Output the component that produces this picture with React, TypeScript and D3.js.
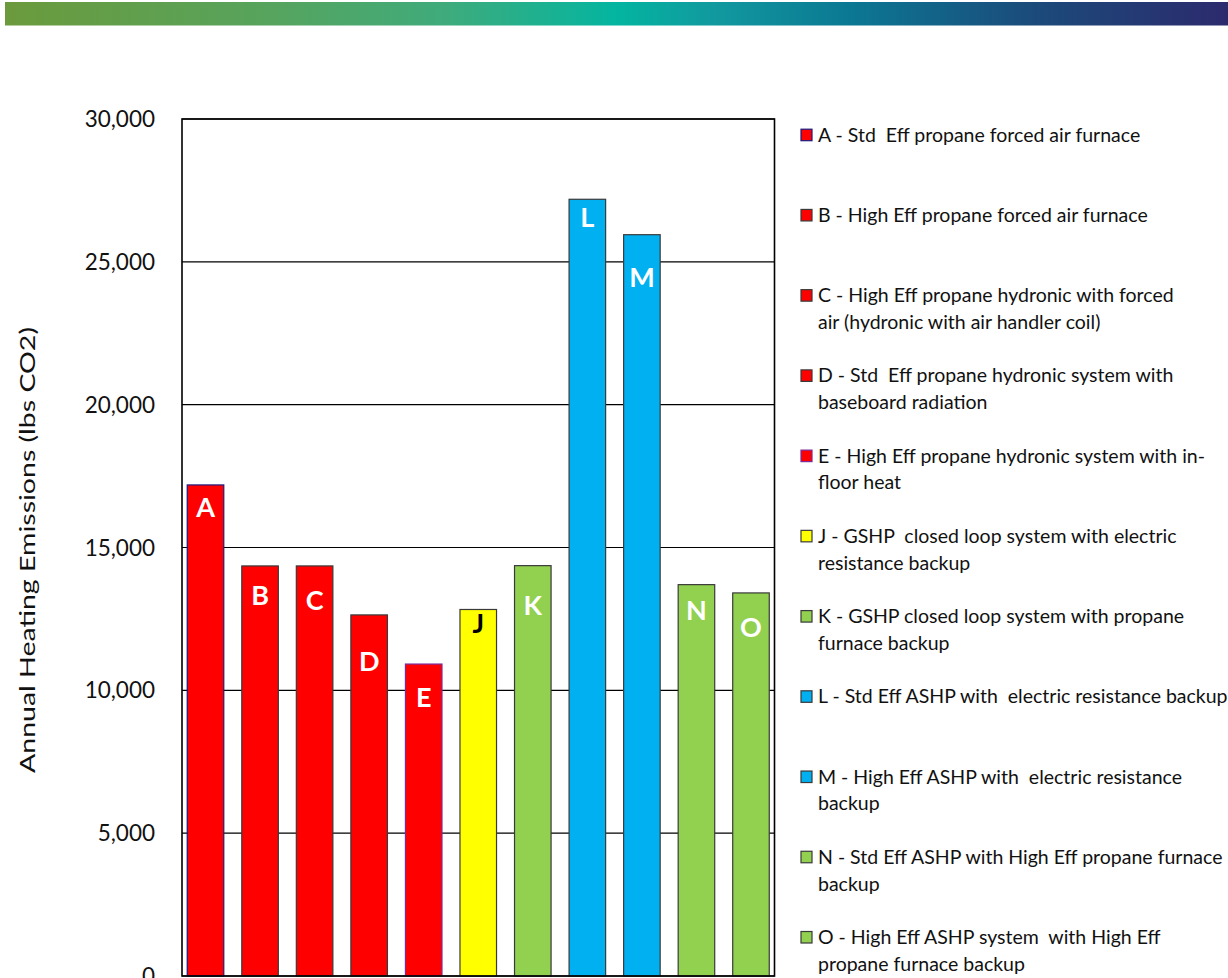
import React from "react";
import * as d3 from "d3";

const categories = ["A", "B", "C", "D", "E", "J", "K", "L", "M", "N", "O"];
const values = [17190, 14355, 14355, 12640, 10920, 12830, 14365, 27190, 25950, 13700, 13410];
const labelValues = [16080, 13000, 12800, 10660, 9400, 11990, 12620, 26220, 24130, 12470, 11880];
const groups = ["propane", "propane", "propane", "propane", "propane", "gshpElec", "hybrid", "ashp", "ashp", "hybrid", "hybrid"];
const legendLabels = [
  ["A - Std  Eff propane forced air furnace"],
  ["B - High Eff propane forced air furnace"],
  ["C - High Eff propane hydronic with forced", "air (hydronic with air handler coil)"],
  ["D - Std  Eff propane hydronic system with", "baseboard radiation"],
  ["E - High Eff propane hydronic system with in-", "floor heat"],
  ["J - GSHP  closed loop system with electric", "resistance backup"],
  ["K - GSHP closed loop system with propane", "furnace backup"],
  ["L - Std Eff ASHP with  electric resistance backup"],
  ["M - High Eff ASHP with  electric resistance", "backup"],
  ["N - Std Eff ASHP with High Eff propane furnace", "backup"],
  ["O - High Eff ASHP system  with High Eff", "propane furnace backup"],
];
const yTicks = [0, 5000, 10000, 15000, 20000, 25000, 30000];
const yTitle = "Annual Heating Emissions (lbs CO2)";

const groupColor: Record<string, string> = {
  propane: "#ff0000",
  gshpElec: "#ffff00",
  hybrid: "#92d050",
  ashp: "#00b0f0",
};
const strokeFor = (c: string) => (c === "A" ? "#1a1a80" : c === "E" ? "#7a2a9a" : "#3a3a3a");

const W = 1228;
const H = 978;
const plot = { left: 182, right: 774.5, top: 119, bottom: 976 };
const FONT = "Lato, 'Open Sans', sans-serif";

export default function App() {
  const x = d3
    .scaleBand<string>()
    .domain(categories)
    .range([plot.left, plot.right])
    .paddingInner(0.33)
    .paddingOuter(0.096);
  const y = d3.scaleLinear().domain([0, 30000]).range([plot.bottom, plot.top]);
  const fmt = d3.format(",");
  const legendX = 801;
  const legendTextX = 818;
  const legendY = d3.scaleLinear().domain([0, 10]).range([141.7, 944]);

  return (
    <svg
      width={W}
      height={H}
      style={{ position: "absolute", left: 0, top: 0, display: "block", background: "#fff" }}
      fontFamily={FONT}
    >
      <defs>
        <linearGradient id="topbar" x1="0" x2="1" y1="0" y2="0">
          <stop offset="0" stopColor="#6b9a3c" />
          <stop offset="0.22" stopColor="#56a45e" />
          <stop offset="0.36" stopColor="#3fab7c" />
          <stop offset="0.5" stopColor="#03b5a0" />
          <stop offset="0.58" stopColor="#11999f" />
          <stop offset="0.69" stopColor="#0b7893" />
          <stop offset="0.84" stopColor="#1b4b7a" />
          <stop offset="1" stopColor="#2c2a6e" />
        </linearGradient>
      </defs>
      <rect x={5} y={2} width={W - 5} height={23.5} fill="url(#topbar)" />

      {/* gridlines */}
      {yTicks.map((t) => (
        <line key={t} x1={plot.left} x2={plot.right} y1={y(t)} y2={y(t)} stroke="#000" strokeWidth={1.2} />
      ))}
      {/* tick labels */}
      {yTicks.map((t) => (
        <text key={"l" + t} x={155} y={y(t) + 8} textAnchor="end" fontSize={22.5} fill="#111">
          {fmt(t)}
        </text>
      ))}
      <text
        transform={`translate(35,${550}) rotate(-90)`}
        textAnchor="middle"
        fontSize={22}
        textLength={446}
        lengthAdjust="spacingAndGlyphs"
        fill="#111"
      >
        {yTitle}
      </text>

      {/* bars */}
      {categories.map((c, i) => (
        <rect
          key={c}
          x={x(c)!}
          y={y(values[i])}
          width={x.bandwidth()}
          height={y(0) - y(values[i])}
          fill={groupColor[groups[i]]}
          stroke={strokeFor(c)}
          strokeWidth={1.2}
        />
      ))}
      {categories.map((c, i) => (
        <text
          key={"t" + c}
          x={x(c)! + x.bandwidth() / 2}
          y={y(labelValues[i])}
          textAnchor="middle"
          fontSize={27}
          fontWeight={700}
          fill={groups[i] === "gshpElec" ? "#000" : "#fff"}
        >
          {c}
        </text>
      ))}

      {/* plot frame */}
      <rect
        x={plot.left}
        y={plot.top}
        width={plot.right - plot.left}
        height={plot.bottom - plot.top}
        fill="none"
        stroke="#000"
        strokeWidth={1.6}
      />

      {/* legend */}
      {categories.map((c, i) => {
        const by = legendY(i);
        return (
          <g key={"lg" + c}>
            <rect
              x={legendX}
              y={by - 12.5}
              width={11}
              height={11.5}
              fill={groupColor[groups[i]]}
              stroke={strokeFor(c)}
              strokeWidth={1.2}
            />
            {legendLabels[i].map((ln, j) => (
              <text key={j} x={legendTextX} y={by + j * 26.8} fontSize={19.5} fill="#111" style={{ whiteSpace: "pre" }}>
                {ln}
              </text>
            ))}
          </g>
        );
      })}
    </svg>
  );
}
